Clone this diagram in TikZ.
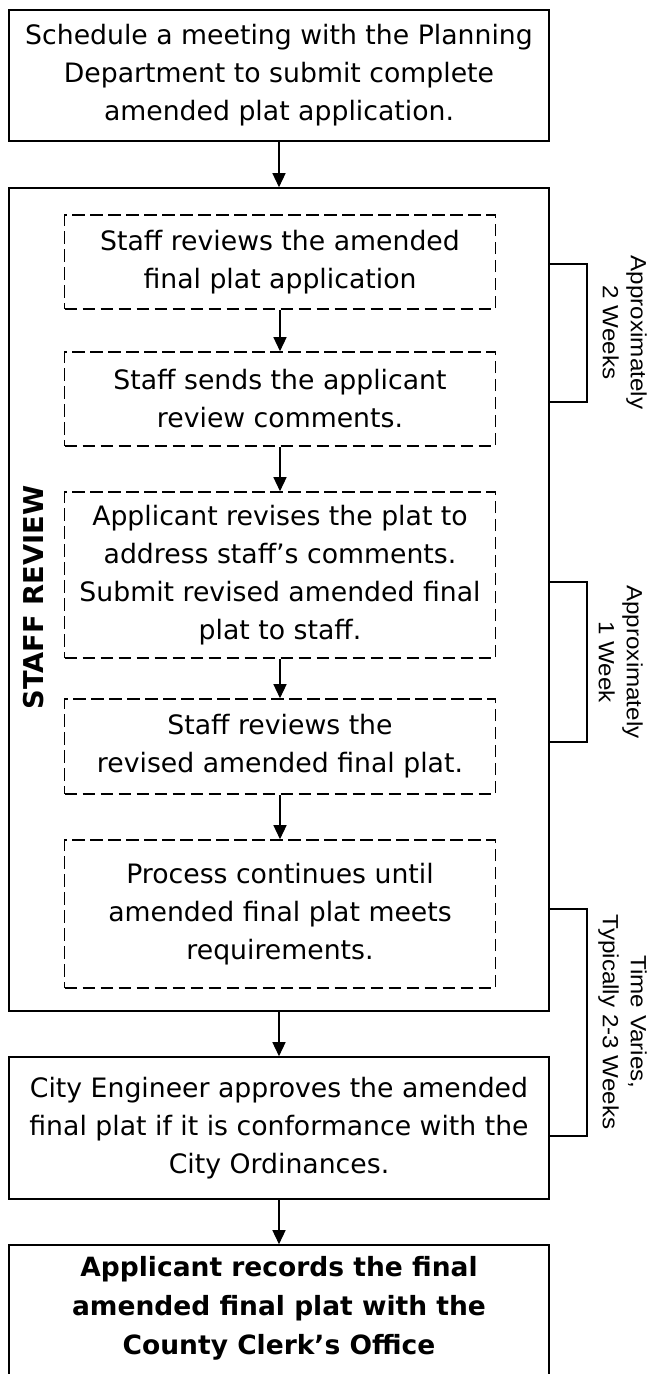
\documentclass[tikz,border=0pt]{standalone}
\usepackage{fontspec}
\setmainfont{DejaVu Sans}
\newfontfamily\labfont[FakeStretch=1.1]{Liberation Sans}
\usetikzlibrary{arrows.meta}
\begin{document}
\begin{tikzpicture}[x=1pt,y=-1pt,
  txt/.style={align=center, font=\fontsize{26.7}{38}\selectfont},
  solidbox/.style={draw, line width=1.6pt, minimum width=540pt, inner sep=0pt, txt},
  dashbox/.style={draw, line width=1.6pt, dash pattern=on 12.5pt off 5.5pt, minimum width=431pt, inner sep=0pt, txt},
  arr/.style={line width=1.4pt, -{Triangle[length=14pt,width=13pt]}},
  brk/.style={line width=1.6pt},
  lab/.style={rotate=-90, anchor=north, inner sep=0pt, align=center, font=\labfont\fontsize{22}{28}\selectfont}]
\fill[white] (0,0) rectangle (651,1374);
\useasboundingbox (0,0) rectangle (651,1374);

\node[solidbox, minimum height=131pt] (top) at (279,75.5)
  {Schedule a meeting with the Planning\\Department to submit complete\\amended plat application.};
\node[solidbox, minimum height=823pt] (big) at (279,599.5) {};
\node[rotate=90, inner sep=0pt, font=\bfseries\fontsize{27.3}{30}\selectfont] (staff) at (33.5,597.5) {STAFF REVIEW};

\node[dashbox, minimum height=94pt] (d1) at (280,262)
  {Staff reviews the amended\\final plat application};
\node[dashbox, minimum height=94pt] (d2) at (280,399)
  {Staff sends the applicant\\review comments.};
\node[dashbox, minimum height=166pt] (d3) at (280,575)
  {Applicant revises the plat to\\address staff’s comments.\\Submit revised amended final\\plat to staff.};
\node[dashbox, minimum height=95pt] (d4) at (280,746.5)
  {Staff reviews the\\revised amended final plat.};
\node[dashbox, minimum height=148pt] (d5) at (280,914)
  {Process continues until\\amended final plat meets\\requirements.};

\node[solidbox, minimum height=142pt] (city) at (279,1128)
  {City Engineer approves the amended\\final plat if it is conformance with the\\City Ordinances.};
\node[solidbox, minimum height=132pt] (rec) at (279,1311) {};
\node[align=center, inner sep=0pt, font=\bfseries\fontsize{26.5}{39}\selectfont] (rectext) at ([yshift=3pt]rec.center)
  {Applicant records the final\\amended final plat with the\\County Clerk’s Office};

\draw[arr] (top.south) -- (big.north);
\draw[arr] (d1.south) -- (d2.north);
\draw[arr] (d2.south) -- (d3.north);
\draw[arr] (d3.south) -- (d4.north);
\draw[arr] (d4.south) -- (d5.north);
\draw[arr] (big.south) -- (city.north);
\draw[arr] (city.south) -- (rec.north);

\coordinate (b1t) at (549,264);
\coordinate (b1b) at (549,402);
\coordinate (b2t) at (549,582);
\coordinate (b2b) at (549,742);
\coordinate (b3t) at (549,909);
\coordinate (b3b) at (549,1136);
\draw[brk] (b1t) -- ++(38,0) |- (b1b);
\draw[brk] (b2t) -- ++(38,0) |- (b2b);
\draw[brk] (b3t) -- ++(38,0) |- (b3b);

\node[lab] (l1) at (647,332.5) {Approximately\\2 Weeks};
\node[lab] (l2) at (643,662) {Approximately\\1 Week};
\node[lab] (l3) at (647,1022) {Time Varies,\\Typically 2-3 Weeks};
\end{tikzpicture}
\end{document}
